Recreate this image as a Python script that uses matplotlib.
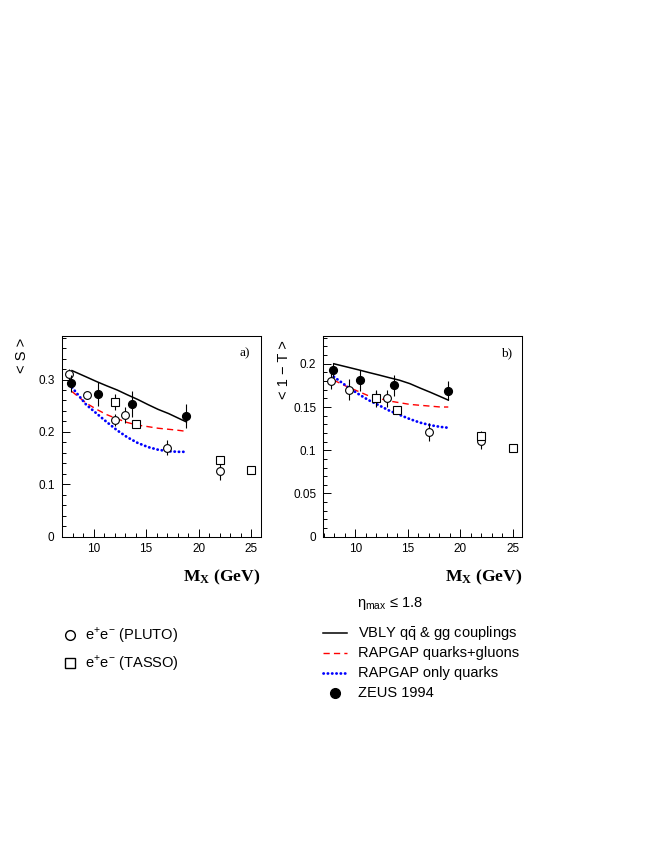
# Event shapes <S> and <1-T> vs M_X, compared with e+e- data and models

import matplotlib
matplotlib.use('Agg')
import matplotlib.pyplot as plt
from matplotlib.lines import Line2D

plt.rcParams['font.family'] = ['Liberation Sans', 'DejaVu Sans']
plt.rcParams['mathtext.fontset'] = 'custom'
plt.rcParams['mathtext.rm'] = 'Liberation Sans'
plt.rcParams['mathtext.bf'] = 'Liberation Serif:bold'

# data points
x_pluto = [7.7, 9.4, 12.0, 13.0, 17.0, 22.0]
S_pluto = [0.310, 0.270, 0.223, 0.232, 0.170, 0.125]
S_pluto_err = [0.010, 0.008, 0.011, 0.015, 0.015, 0.016]
T_pluto = [0.180, 0.170, 0.160, 0.160, 0.121, 0.111]
T_pluto_err = [0.009, 0.012, 0.010, 0.010, 0.010, 0.009]

x_tasso = [12.0, 14.0, 22.0, 25.0]
S_tasso = [0.257, 0.215, 0.146, 0.128]
S_tasso_err = [0.016, 0.006, 0.005, 0.004]
T_tasso = [0.160, 0.146, 0.117, 0.103]
T_tasso_err = [0.009, 0.004, 0.005, 0.003]

x_zeus = [7.9, 10.4, 13.7, 18.8]
S_zeus = [0.293, 0.272, 0.253, 0.231]
S_zeus_err = [0.016, 0.023, 0.025, 0.023]
T_zeus = [0.193, 0.181, 0.175, 0.169]
T_zeus_err = [0.008, 0.012, 0.012, 0.011]

# model curves
x_mc = [7.95, 9.3, 10.3, 11.25, 12.25, 13.2, 14.2, 15.2, 16.15, 17.15, 18.1, 18.85]
S_vbly = [0.317, 0.305, 0.296, 0.288, 0.280, 0.271, 0.262, 0.252, 0.243, 0.235, 0.226, 0.219]
S_qg = [0.277, 0.255, 0.243, 0.233, 0.225, 0.218, 0.213, 0.210, 0.207, 0.205, 0.203, 0.201]
S_q = [0.285, 0.252, 0.235, 0.219, 0.203, 0.190, 0.179, 0.171, 0.166, 0.163, 0.162, 0.162]
T_vbly = [0.200, 0.196, 0.193, 0.190, 0.187, 0.184, 0.181, 0.177, 0.172, 0.167, 0.162, 0.158]
T_qg = [0.181, 0.173, 0.168, 0.163, 0.160, 0.157, 0.155, 0.153, 0.152, 0.151, 0.150, 0.150]
T_q = [0.185, 0.173, 0.165, 0.158, 0.152, 0.146, 0.141, 0.136, 0.132, 0.129, 0.127, 0.126]

W, H = 664, 860
fig = plt.figure(figsize=(W / 100, H / 100), dpi=100)

red_ls = (0, (4.5, 3))
blue_ls = (0, (0.1, 1.45))


def panel(left_px, y_vbly, y_qg, y_q, y_pl, e_pl, y_ta, e_ta, y_ze, e_ze,
          ymax, major, minor, tag):
    ax = fig.add_axes([left_px / W, 1 - 536.7 / H, 199 / W, 201.2 / H])
    ax.plot(x_mc, y_vbly, color='black', lw=1.1, zorder=2)
    ax.plot(x_mc, y_qg, color='red', lw=1.0, ls=red_ls, zorder=2)
    ax.plot(x_mc, y_q, color='blue', lw=2.0, ls=blue_ls,
            dash_capstyle='round', zorder=2)
    ax.errorbar(x_pluto, y_pl, yerr=e_pl, fmt='o', ms=5.6, mfc='white',
                mec='black', mew=0.8, ecolor='black', elinewidth=0.8,
                capsize=0, zorder=3)
    ax.errorbar(x_tasso, y_ta, yerr=e_ta, fmt='s', ms=5.6, mfc='white',
                mec='black', mew=0.8, ecolor='black', elinewidth=0.8,
                capsize=0, zorder=3)
    ax.errorbar(x_zeus, y_ze, yerr=e_ze, fmt='o', ms=5.6, mfc='black',
                mec='black', ecolor='black', elinewidth=0.8,
                capsize=0, zorder=4)
    ax.set_xlim(6.95, 25.9)
    ax.set_ylim(0, ymax)
    ax.set_xticks([10, 15, 20, 25])
    ax.set_xticks(range(7, 26), minor=True)
    ax.yaxis.set_major_locator(plt.MultipleLocator(major))
    ax.yaxis.set_minor_locator(plt.MultipleLocator(minor))
    ax.yaxis.set_major_formatter(plt.FuncFormatter(lambda v, p: '%g' % round(v, 3)))
    ax.tick_params(which='both', direction='in', top=False, right=False,
                   labelsize=8.5, width=0.7)
    ax.tick_params(which='major', length=5.5)
    ax.tick_params(which='minor', length=3)
    ax.tick_params(axis='y', pad=5)
    ax.tick_params(axis='x', pad=4.5)
    for s in ax.spines.values():
        s.set_linewidth(0.75)
    ax.text(0.947, 0.913, tag, transform=ax.transAxes, ha='right',
            va='center', family='Liberation Serif', fontsize=9.5)
    ax.text(1.0, -0.2, r'$\mathbf{M_X}$ (GeV)', transform=ax.transAxes,
            ha='right', va='center', family='Liberation Serif',
            weight='bold', fontsize=12.6)
    return ax


panel(61.5, S_vbly, S_qg, S_q, S_pluto, S_pluto_err, S_tasso, S_tasso_err,
      S_zeus, S_zeus_err, 0.384, 0.1, 0.02, 'a)')
panel(323.3, T_vbly, T_qg, T_q, T_pluto, T_pluto_err, T_tasso, T_tasso_err,
      T_zeus, T_zeus_err, 0.2327, 0.05, 0.01, 'b)')

fig.text(22 / W, 1 - 355.5 / H, '< S >', rotation=90, ha='center',
         va='center', fontsize=10.5)
fig.text(284 / W, 1 - 370 / H, '< 1 \u2212 T >', rotation=90, ha='center',
         va='center', fontsize=10.5)

# legends, drawn in pixel space of the figure
leg = fig.add_axes([0, 0, 1, 1])
leg.set_xlim(0, W)
leg.set_ylim(H, 0)
leg.axis('off')

fs = 10.5
leg.text(357, 603, '\u03b7$_{\\mathregular{max}}$ \u2264 1.8', va='center', fontsize=fs)

leg.plot([70], [635], 'o', ms=7, mfc='white', mec='black', mew=1.0)
leg.text(85, 635, 'e$^{\\mathregular{+}}$e$^{\\mathregular{\u2212}}$ (PLUTO)',
         va='center', fontsize=fs)
leg.plot([70], [663], 's', ms=7, mfc='white', mec='black', mew=1.0)
leg.text(85, 663, 'e$^{\\mathregular{+}}$e$^{\\mathregular{\u2212}}$ (TASSO)',
         va='center', fontsize=fs)

leg.plot([323, 347], [633, 633], color='black', lw=1.1)
leg.text(358, 633, 'VBLY q$\\bar{\\mathregular{q}}$ & gg couplings',
         va='center', fontsize=fs)
leg.add_line(Line2D([323, 347], [653, 653], color='red', lw=1.0, ls=red_ls))
leg.text(358, 653, 'RAPGAP quarks+gluons', va='center', fontsize=fs)
leg.add_line(Line2D([323, 347], [673, 673], color='blue', lw=2.0, ls=blue_ls,
                    dash_capstyle='round'))
leg.text(358, 673, 'RAPGAP only quarks', va='center', fontsize=fs)
leg.plot([335], [693], 'o', ms=7, color='black')
leg.text(358, 693, 'ZEUS 1994', va='center', fontsize=fs)

fig.savefig('out.png', dpi=100)
